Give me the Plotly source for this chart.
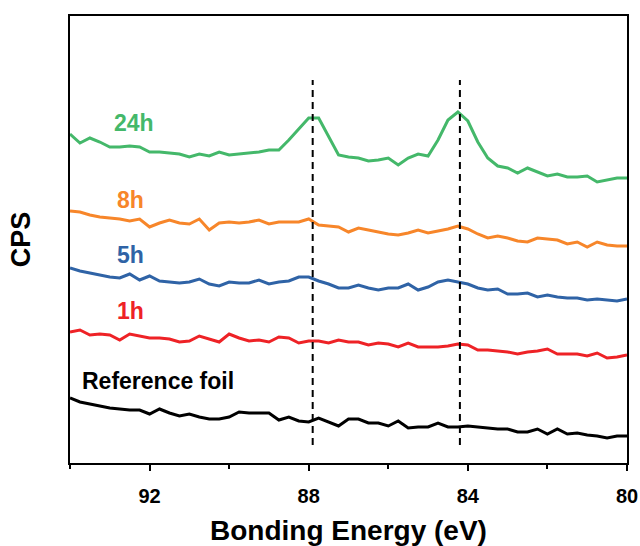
import plotly.graph_objects as go

energy = [94.0, 93.75, 93.5, 93.25, 93.0, 92.75, 92.5, 92.25, 92.0, 91.75,
          91.5, 91.25, 91.0, 90.75, 90.5, 90.25, 90.0, 89.75, 89.5, 89.25,
          89.0, 88.75, 88.5, 88.25, 88.0, 87.75, 87.5, 87.25, 87.0, 86.75,
          86.5, 86.25, 86.0, 85.75, 85.5, 85.25, 85.0, 84.75, 84.5, 84.25,
          84.0, 83.75, 83.5, 83.25, 83.0, 82.75, 82.5, 82.25, 82.0, 81.75,
          81.5, 81.25, 81.0, 80.75, 80.5, 80.25, 80.0]

cps_24h = [329, 320, 325, 321, 316, 316, 317, 316, 311, 311,
           310, 309, 306, 309, 307, 311, 308, 309, 310, 311,
           313, 313, 323, 334, 345, 345, 327, 308, 306, 305,
           302, 303, 305, 298, 305, 309, 307, 323, 343, 351,
           342, 321, 305, 297, 295, 290, 295, 291, 287, 289,
           286, 286, 287, 281, 283, 285, 285]
cps_8h = [252, 251, 248, 246, 245, 244, 242, 244, 236, 240,
          243, 240, 239, 244, 233, 240, 241, 240, 241, 243,
          239, 241, 241, 241, 244, 238, 237, 236, 231, 235,
          233, 231, 229, 228, 230, 233, 230, 232, 234, 237,
          234, 229, 225, 227, 225, 222, 221, 225, 224, 223,
          219, 221, 216, 221, 218, 217, 217]
cps_5h = [195, 192, 190, 188, 186, 185, 189, 183, 187, 182,
          181, 180, 181, 184, 179, 177, 181, 180, 180, 183,
          179, 181, 182, 186, 186, 182, 179, 175, 175, 178,
          175, 173, 175, 175, 179, 173, 176, 181, 183, 181,
          179, 175, 173, 174, 169, 169, 170, 166, 168, 166,
          165, 165, 163, 164, 163, 162, 164]
cps_1h = [131, 133, 128, 129, 128, 123, 129, 127, 125, 125,
          124, 121, 122, 127, 124, 121, 129, 125, 122, 123,
          121, 126, 125, 120, 122, 122, 120, 123, 121, 121,
          118, 120, 119, 116, 120, 116, 116, 116, 117, 119,
          118, 113, 113, 112, 111, 109, 111, 112, 114, 109,
          109, 109, 107, 110, 105, 106, 108]
cps_ref = [65, 61, 59, 57, 55, 54, 53, 53, 49, 54,
           50, 47, 49, 46, 44, 44, 46, 51, 50, 50,
           50, 43, 46, 42, 41, 45, 41, 37, 44, 44,
           40, 40, 37, 42, 35, 36, 36, 40, 36, 36,
           37, 36, 35, 34, 34, 31, 31, 34, 29, 34,
           29, 30, 28, 27, 25, 27, 27]

series_names = ["Reference foil", "1h", "5h", "8h", "24h"]
series_values = [cps_ref, cps_1h, cps_5h, cps_8h, cps_24h]
series_colors = ["#000000", "#ee2226", "#2f63a6", "#f7862a", "#44b86a"]
label_pos = [(91.78, 82), (92.49, 152), (92.49, 208), (92.49, 263), (92.39, 340)]

peak_positions = [87.9, 84.2]
peak_span = [18, 383]

x_ticks = [92, 88, 84, 80]

fig = go.Figure()
for name, vals, col in zip(series_names, series_values, series_colors):
    fig.add_trace(go.Scatter(x=energy, y=vals, mode="lines", name=name,
                             line=dict(color=col, width=3), showlegend=False))

for p in peak_positions:
    fig.add_shape(type="line", x0=p, x1=p, y0=peak_span[0], y1=peak_span[1],
                  xref="x", yref="y", line=dict(color="black", width=2, dash="7px,5px"))

for (lx, ly), name, col in zip(label_pos, series_names, series_colors):
    fig.add_annotation(x=lx, y=ly, text="<b>%s</b>" % name, showarrow=False,
                       font=dict(family="Liberation Sans, Arial", size=23, color=col),
                       xanchor="center", yanchor="middle")

fig.update_layout(
    width=640, height=546,
    margin=dict(l=70, r=13, t=16, b=83),
    paper_bgcolor="white", plot_bgcolor="white",
    font=dict(family="Liberation Sans, Arial", color="black"),
)
fig.update_xaxes(
    range=[94, 80], tickvals=x_ticks, ticktext=[str(v) for v in x_ticks],
    automargin=False, ticklabeloverflow="allow",
    showgrid=False, zeroline=False,
    showline=True, linecolor="black", linewidth=2, mirror=True,
    ticks="outside", ticklen=6, tickwidth=2, tickcolor="black",
    ticklabelstandoff=8,
    tickfont=dict(size=20, family="Liberation Sans, Arial", color="black", weight="bold"),
    minor=dict(tickvals=[94, 90, 86, 82], ticks="outside", ticklen=4, tickwidth=2, tickcolor="black"),
    title=dict(text="<b>Bonding Energy (eV)</b>", font=dict(size=28), standoff=15),
)
fig.update_yaxes(
    range=[0, 447], showticklabels=False, ticks="",
    automargin=False,
    showgrid=False, zeroline=False,
    showline=True, linecolor="black", linewidth=2, mirror=True,
    title=dict(text="<b>CPS</b>", font=dict(size=27), standoff=30),
)

fig.write_html("out.html", config={"displayModeBar": False},
               post_script="document.body.style.margin='0';document.body.style.overflow='hidden';")
